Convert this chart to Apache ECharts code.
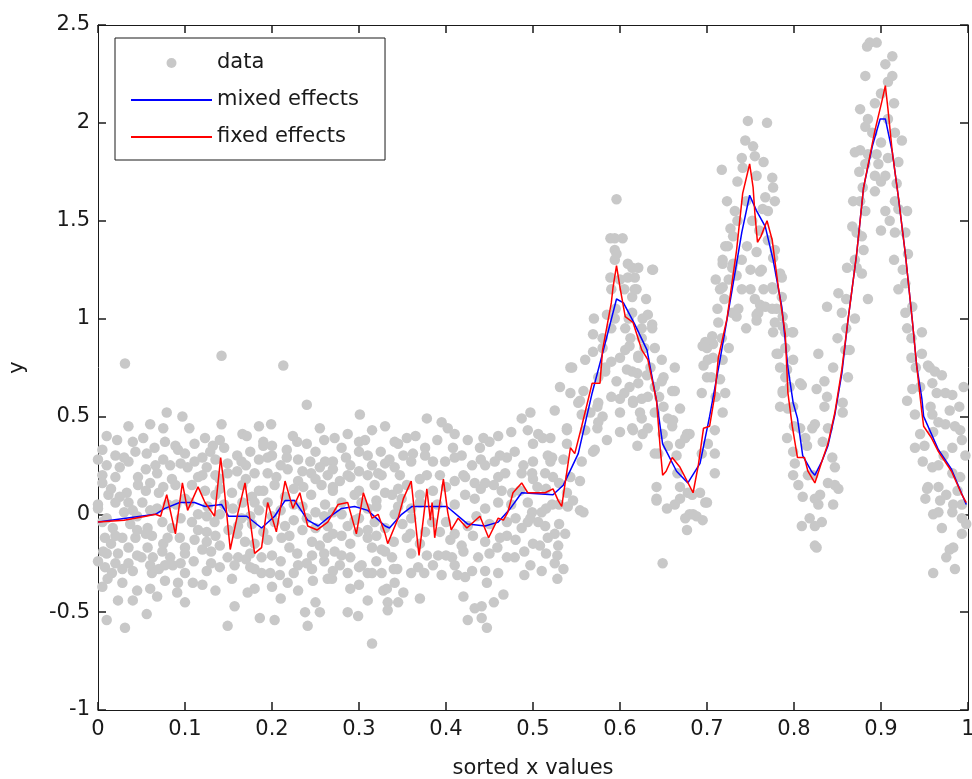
<!DOCTYPE html>
<html><head><meta charset="utf-8">
<script src="https://cdn.jsdelivr.net/npm/echarts@6/dist/echarts.min.js"></script>
<style>html,body{margin:0;padding:0;background:#fff}#c{width:972px;height:779px}</style>
</head><body><div id="c"></div>
<script>
// scatter data [x, y]
var pointsA = [[0.031,0.77],[0.142,0.81],[0.213,0.76],[0.079,0.52],[0.24,0.56],[0.097,0.5],[0.142,0.46],[0.199,0.46],[0.301,0.51],[0.075,0.44],
[0.01,0.4],[0.022,0.38],[0.052,0.39],[0.077,0.37],[0.089,0.35],[0.111,0.36],[0.123,0.39],[0.132,0.35],[0.166,0.41],[0.171,0.4],[0.224,0.4],[0.229,0.37],[0.272,0.39],[0.287,0.41],[0.315,0.43],[0.307,0.38],
[0.02,0.3],[0.043,0.32],[0.056,0.31],[0.092,0.33],[0.111,0.27],[0.129,0.32],[0.149,0.26],[0.217,0.33],[0.217,0.29],[0.244,0.27],[0.261,0.27],[0.27,0.27],[0.31,0.3],[0.322,0.21],
[0.005,0.2],[0.046,0.19],[0.066,0.25],[0.068,0.21],[0.083,0.25],[0.103,0.24],[0.12,0.2],[0.149,0.21],[0.18,0.21],[0.195,0.21],[0.218,0.23],[0.23,0.17],[0.264,0.2],[0.278,0.17],[0.326,0.2],
[0.005,0.16],[0.033,0.11],[0.046,0.15],[0.06,0.16],[0.089,0.15],[0.108,0.15],[0.123,0.12],[0.154,0.11],[0.166,0.15],[0.177,0.09],[0.203,0.15],[0.236,0.14],[0.257,0.15],[0.287,0.2],[0.318,0.15],
[0.02,0.06],[0.051,0.06],[0.068,0.03],[0.126,0.04],[0.166,0.06],[0.195,0.06],[0.261,0.05],[0.303,0.06],
[0.005,-0.04],[0.017,-0.07],[0.037,-0.05],[0.057,-0.07],[0.074,-0.04],[0.108,-0.04],[0.134,-0.04],[0.161,-0.06],[0.177,-0.05],[0.203,-0.04],[0.215,-0.06],[0.264,-0.06],[0.287,-0.06],[0.318,-0.04],
[0.008,-0.12],[0.028,-0.12],[0.043,-0.12],[0.062,-0.11],[0.094,-0.12],[0.1,-0.17],[0.111,-0.13],[0.169,-0.14],[0.195,-0.13],[0.211,-0.12],[0.246,-0.14],[0.264,-0.12],[0.28,-0.11],[0.299,-0.09],[0.315,-0.17],[0.326,-0.18],
[0.006,-0.19],[0.023,-0.2],[0.057,-0.17],[0.063,-0.22],[0.074,-0.19],[0.083,-0.22],[0.149,-0.22],[0.161,-0.22],[0.188,-0.22],[0.229,-0.2],[0.246,-0.21],[0.272,-0.19],[0.278,-0.26],[0.303,-0.26],[0.315,-0.3],
[0.008,-0.27],[0.016,-0.3],[0.028,-0.28],[0.062,-0.3],[0.077,-0.26],[0.086,-0.26],[0.157,-0.26],[0.198,-0.3],[0.209,-0.31],[0.246,-0.28],[0.264,-0.33],[0.287,-0.3],[0.326,-0.3],
[0.011,-0.33],[0.028,-0.35],[0.077,-0.34],[0.092,-0.35],[0.109,-0.35],[0.154,-0.33],[0.188,-0.3],[0.218,-0.35],[0.247,-0.34],[0.269,-0.33],[0.31,-0.3],[0.328,-0.39],
[0.045,-0.39],[0.091,-0.4],[0.172,-0.4],[0.18,-0.38],[0.068,-0.42],[0.023,-0.44],[0.157,-0.47],[0.056,-0.51],[0.238,-0.5],[0.255,-0.5],[0.287,-0.5],[0.299,-0.52],[0.01,-0.54],[0.031,-0.58],[0.149,-0.57],[0.186,-0.53],[0.203,-0.54],[0.241,-0.57],[0.315,-0.66],
[0.135,0.28],[0.16,0.3],[0.185,0.28],[0.19,0.35],[0.17,0.25],[0.14,0.18],[0.2,0.3],[0.235,0.22],[0.255,0.24],[0.29,0.25],[0.3,0.32],[0.33,0.26],[0.025,0.24],[0.035,0.27],[0.012,0.1],[0.04,0.02],[0.09,0.05],[0.14,0.0],[0.25,0.01],[0.28,0.0],[0.3,-0.02],[0.32,0.07],[0.225,-0.03],[0.185,0.02],[0.115,-0.08],[0.05,-0.22],[0.13,-0.25],[0.175,-0.27],[0.23,-0.26],[0.29,-0.22],[0.095,-0.25],[0.035,-0.25],[0.12,-0.18],[0.26,-0.24],[0.31,-0.12]];

var pointsE = [[0.005,0.33],[0.065,0.34],[0.1,0.31],[0.145,0.34],[0.175,0.32],[0.2,0.35],[0.25,0.32],[0.28,0.34],[0.325,0.32],
[0.01,0.25],[0.055,0.23],[0.095,0.26],[0.125,0.24],[0.16,0.22],[0.21,0.25],[0.245,0.21],[0.27,0.23],[0.3,0.22],[0.315,0.25],
[0.025,0.09],[0.07,0.11],[0.1,0.08],[0.135,0.1],[0.19,0.12],[0.215,0.09],[0.245,0.1],[0.27,0.12],[0.295,0.1],[0.33,0.11],
[0.0,0.03],[0.03,0.01],[0.06,0.02],[0.115,0.0],[0.155,0.03],[0.175,-0.01],[0.21,0.02],[0.235,0.04],[0.27,0.01],[0.31,0.03],
[0.045,-0.08],[0.085,-0.07],[0.125,-0.09],[0.15,-0.08],[0.19,-0.09],[0.235,-0.08],[0.25,-0.07],[0.31,-0.08],[0.33,-0.07],
[0.015,-0.15],[0.035,-0.17],[0.075,-0.15],[0.125,-0.14],[0.14,-0.16],[0.18,-0.15],[0.22,-0.17],[0.255,-0.16],[0.29,-0.15],
[0.0,-0.24],[0.02,-0.25],[0.06,-0.26],[0.11,-0.24],[0.14,-0.27],[0.17,-0.23],[0.21,-0.24],[0.24,-0.25],[0.3,-0.27],[0.32,-0.24],
[0.005,-0.37],[0.06,-0.38],[0.12,-0.36],[0.135,-0.39],[0.2,-0.37],[0.23,-0.39],[0.29,-0.38],[0.3,-0.36],
[0.035,0.45],[0.06,0.46],[0.105,0.44],[0.185,0.45],[0.255,0.44],[0.33,0.45],
[0.365,0.4],[0.41,0.41],[0.425,0.38],[0.46,0.4],[0.475,0.42],[0.52,0.39],
[0.335,0.28],[0.385,0.27],[0.47,0.29],[0.5,0.27],[0.535,0.28],
[0.355,0.15],[0.4,0.14],[0.41,0.17],[0.455,0.15],[0.505,0.14],[0.53,0.16],
[0.345,0.04],[0.36,0.03],[0.39,0.05],[0.445,0.03],[0.475,0.05],[0.515,0.03],[0.54,0.04],
[0.35,-0.05],[0.4,-0.04],[0.425,-0.06],[0.45,-0.05],[0.47,-0.04],[0.53,-0.05],
[0.34,-0.14],[0.37,-0.15],[0.405,-0.13],[0.445,-0.14],[0.48,-0.13],[0.5,-0.15],
[0.36,-0.3],[0.395,-0.31],[0.43,-0.29],[0.46,-0.3],[0.49,-0.31],[0.51,-0.29]];

var pointsF = [[0.04,0.37],[0.14,0.38],[0.19,0.37],[0.24,0.36],[0.26,0.38],[0.3,0.37],[0.345,0.36],[0.39,0.38],[0.45,0.37],[0.5,0.36],
[0.0,0.28],[0.03,0.29],[0.075,0.28],[0.12,0.29],[0.165,0.27],[0.195,0.29],[0.23,0.28],[0.285,0.29],[0.36,0.27],[0.41,0.29],[0.44,0.28],[0.52,0.27],
[0.02,0.19],[0.085,0.18],[0.115,0.19],[0.135,0.2],[0.17,0.18],[0.205,0.19],[0.25,0.18],[0.29,0.19],[0.31,0.2],[0.37,0.18],[0.42,0.2],[0.46,0.19],[0.5,0.18],
[0.015,0.13],[0.055,0.12],[0.075,0.14],[0.14,0.13],[0.185,0.12],[0.225,0.13],[0.27,0.14],[0.3,0.12],[0.345,0.13],[0.385,0.12],[0.44,0.13],[0.485,0.12],[0.515,0.13],
[0.0,0.05],[0.035,0.06],[0.08,0.05],[0.105,0.06],[0.145,0.05],[0.18,0.06],[0.225,0.05],[0.28,0.06],[0.32,0.04],[0.37,0.06],[0.41,0.05],[0.46,0.06],[0.53,0.05],
[0.01,-0.02],[0.045,-0.01],[0.095,-0.02],[0.125,-0.01],[0.165,-0.02],[0.2,-0.01],[0.24,-0.02],[0.26,-0.01],[0.295,-0.03],[0.36,-0.02],[0.435,-0.01],[0.48,-0.02],
[0.02,-0.11],[0.055,-0.1],[0.08,-0.12],[0.135,-0.11],[0.16,-0.1],[0.22,-0.11],[0.27,-0.1],[0.32,-0.11],[0.355,-0.12],[0.41,-0.1],[0.47,-0.11],[0.525,-0.1],
[0.01,-0.2],[0.045,-0.21],[0.1,-0.2],[0.13,-0.19],[0.175,-0.2],[0.2,-0.21],[0.26,-0.2],[0.28,-0.21],[0.33,-0.19],[0.36,-0.2],[0.4,-0.21],[0.45,-0.2],[0.49,-0.19],[0.515,-0.2],
[0.04,-0.29],[0.07,-0.28],[0.1,-0.3],[0.125,-0.29],[0.18,-0.28],[0.225,-0.3],[0.27,-0.29],[0.34,-0.28],[0.375,-0.3],[0.445,-0.29],[0.535,-0.28],
[0.04,-0.44],[0.1,-0.45],[0.21,-0.43],[0.25,-0.45],[0.31,-0.44],[0.37,-0.43],[0.455,-0.45],
[0.71,1.2],[0.725,1.2],[0.74,1.3],[0.75,1.25],[0.765,1.15],[0.78,1.05],[0.76,1.45],[0.735,1.5],[0.77,1.55],[0.755,1.1],[0.745,0.95],[0.79,0.7],[0.7,0.7],[0.71,0.6],
[0.87,1.3],[0.88,1.35],[0.9,1.45],[0.915,1.3],[0.92,1.15],[0.93,0.95],[0.885,1.1],[0.86,0.95],[0.875,1.75],[0.915,2.1],[0.9,1.7],[0.935,0.8],
[0.59,1.15],[0.595,1.05],[0.61,1.0],[0.625,0.95],[0.64,0.85],[0.58,0.85],[0.575,0.7],[0.59,0.78],[0.605,0.62],[0.62,0.72],[0.64,0.65],[0.65,0.7]];

var pointsB = [[0.378,0.49],[0.395,0.47],[0.402,0.44],[0.341,0.37],[0.355,0.39],[0.376,0.34],[0.443,0.39],[0.439,0.34],[0.408,0.34],[0.418,0.3],[0.351,0.3],[0.362,0.31],[0.376,0.3],[0.462,0.3],[0.399,0.27],[0.43,0.25],[0.445,0.25],[0.456,0.27],[0.479,0.32],[0.487,0.49],[0.497,0.52],[0.525,0.53],[0.531,0.65],[0.543,0.62],[0.494,0.43],[0.506,0.41],[0.511,0.39],[0.539,0.44],[0.517,0.3],[0.522,0.29],[0.539,0.36],
[0.341,0.24],[0.347,0.2],[0.378,0.2],[0.393,0.2],[0.422,0.19],[0.433,0.16],[0.445,0.16],[0.468,0.21],[0.476,0.11],[0.487,0.21],[0.499,0.21],[0.514,0.21],
[0.338,0.1],[0.349,0.08],[0.37,0.1],[0.422,0.1],[0.433,0.08],[0.464,0.12],[0.494,0.06],[0.499,0.01],[0.51,0.01],[0.522,0.05],[0.494,-0.04],[0.506,-0.04],[0.514,-0.06],[0.487,-0.07],[0.537,-0.1],[0.517,-0.12],[0.508,-0.16],[0.529,-0.16],
[0.341,0.0],[0.359,-0.1],[0.376,-0.09],[0.384,-0.04],[0.393,-0.09],[0.418,-0.16],[0.431,-0.11],[0.462,-0.12],[0.459,-0.17],
[0.338,-0.22],[0.344,-0.28],[0.368,-0.27],[0.378,-0.21],[0.391,-0.21],[0.385,-0.26],[0.407,-0.22],[0.41,-0.26],[0.42,-0.19],[0.437,-0.22],[0.47,-0.22],[0.479,-0.22],[0.497,-0.26],[0.525,-0.25],[0.528,-0.21],[0.413,-0.31],[0.422,-0.32],[0.528,-0.33],[0.332,-0.38],[0.341,-0.35],[0.351,-0.4],[0.447,-0.35],[0.333,-0.45],[0.345,-0.45],[0.333,-0.49],[0.42,-0.42],[0.466,-0.41],[0.433,-0.48],[0.441,-0.47],[0.425,-0.54],[0.441,-0.53],[0.447,-0.58],
[0.489,0.25],[0.523,0.19],[0.543,0.19],[0.546,0.07],[0.554,0.02],[0.497,-0.02],[0.543,0.75]];

var pointsC = [[0.552,0.57],[0.556,0.51],[0.574,0.44],[0.569,0.32],[0.556,0.27],[0.554,0.17],[0.558,0.01],[0.539,0.11],
[0.596,1.61],[0.594,1.41],[0.603,1.41],[0.594,1.35],[0.594,1.3],[0.614,1.26],[0.621,1.26],[0.637,1.25],[0.609,1.21],[0.617,1.21],[0.617,1.15],[0.614,1.11],[0.585,1.02],[0.614,1.03],[0.632,1.02],[0.594,1.0],[0.606,0.95],[0.637,0.97],[0.569,0.92],[0.625,0.9],[0.606,0.84],[0.569,0.83],[0.56,0.79],[0.621,0.8],[0.648,0.79],[0.545,0.75],[0.583,0.75],
[0.583,0.73],[0.614,0.73],[0.621,0.67],[0.648,0.68],[0.66,0.63],[0.575,0.57],[0.615,0.58],[0.625,0.59],[0.625,0.49],[0.632,0.44],[0.614,0.44],[0.655,0.49],[0.66,0.45],[0.571,0.33],[0.64,0.31],
[0.575,0.47],[0.632,0.6],[0.64,0.52],[0.661,0.48],[0.649,0.41],[0.669,0.36],[0.677,0.41],[0.644,0.31],[0.615,0.43],[0.626,0.41],[0.623,0.52],[0.615,0.57],
[0.642,0.07],[0.642,0.14],[0.669,0.14],[0.678,0.11],[0.7,0.06],[0.684,0.0],[0.694,0.31],[0.701,0.36],
[0.694,0.62],[0.696,0.76],[0.7,0.85],[0.707,0.87],[0.707,0.8],[0.717,0.9],[0.721,0.62],[0.718,0.52],[0.715,1.15],[0.718,1.28],[0.73,1.28],[0.724,1.37],[0.73,1.42],[0.734,1.01],[0.757,1.02],[0.761,1.07],[0.761,1.24],[0.776,1.15],[0.776,1.31],[0.784,1.23],[0.776,0.93],[0.787,0.96],[0.799,0.93],[0.78,0.82],[0.784,0.75],[0.792,0.74],[0.807,0.67],[0.787,0.62],[0.784,0.55],[0.799,0.55],[0.807,0.44],[0.792,0.39],
[0.747,2.01],[0.769,2.0],[0.744,1.91],[0.753,1.88],[0.755,1.83],[0.74,1.82],[0.741,1.77],[0.717,1.76],[0.757,1.73],[0.775,1.72],[0.776,1.67],[0.723,1.6],[0.767,1.62],[0.778,1.6],[0.732,1.55],[0.764,1.56],[0.727,1.46],[0.746,1.37],[0.757,1.34],[0.778,1.35],[0.721,1.37],[0.718,1.3],[0.729,1.26],[0.734,1.22],[0.763,1.25],[0.786,1.21],[0.718,1.16],[0.775,1.16],[0.786,1.11],[0.767,1.06],[0.759,1.03],[0.757,0.99],[0.736,1.05],[0.729,1.03],[0.713,0.98],[0.706,0.91],[0.698,0.88],[0.695,0.86],[0.778,0.98],[0.787,1.01],[0.79,0.93],[0.798,0.93],[0.782,0.82],[0.701,0.79],[0.718,0.79],[0.799,0.79],
[0.663,0.63],[0.669,0.54],[0.68,0.41],[0.675,0.39],[0.666,0.21],[0.669,0.08],[0.663,0.05],[0.683,0.1],[0.692,0.11],[0.68,0.0],[0.688,-0.01],[0.695,-0.03],[0.677,-0.08],[0.709,0.31],[0.709,0.21],[0.787,0.63],[0.793,0.54],[0.715,0.69],[0.709,0.43],[0.663,0.75],[0.675,-0.02],[0.698,0.06],[0.649,-0.25],[0.642,0.08],[0.654,0.03],
[0.558,0.63],[0.554,0.58],[0.574,0.55],[0.566,0.52],[0.56,0.43],[0.539,0.43],[0.585,0.38],[0.589,1.21],[0.609,1.28],[0.638,1.25],[0.589,1.41],[0.596,1.33],[0.619,1.15],[0.626,1.0],[0.637,0.95],[0.611,0.86],[0.621,0.81],[0.631,0.71],[0.608,0.74],[0.596,0.68],[0.611,0.65],[0.6,0.59],[0.6,0.52],
[0.58,0.9],[0.59,0.95],[0.6,0.8],[0.605,1.15],[0.612,0.9],[0.628,0.85],[0.635,0.75],[0.645,0.6],[0.65,0.55],[0.59,0.6],[0.58,0.5],[0.6,0.42],[0.62,0.35],[0.655,0.35],[0.665,0.3],[0.57,1.0],[0.6,1.2],[0.63,1.1],
[0.705,0.7],[0.712,1.05],[0.72,1.1],[0.725,0.85],[0.74,1.15],[0.75,1.15],[0.752,1.5],[0.77,1.4],[0.775,1.05],[0.79,0.85],[0.795,0.65],[0.8,0.45],[0.735,1.7],[0.765,1.8],[0.745,1.6]];

var pointsD = [[0.809,0.66],[0.826,0.64],[0.838,0.6],[0.821,0.44],[0.824,0.46],[0.813,0.39],[0.833,0.37],[0.839,0.44],[0.856,0.57],[0.856,0.52],[0.799,0.32],[0.801,0.26],[0.799,0.2],[0.816,0.2],[0.822,0.2],[0.844,0.29],[0.847,0.24],[0.839,0.16],[0.847,0.15],[0.851,0.13],[0.81,0.09],[0.824,0.08],[0.828,0.05],[0.832,-0.04],[0.824,-0.06],[0.809,-0.06],[0.824,-0.16],[0.826,-0.17],
[0.887,2.41],[0.895,2.41],[0.884,2.39],[0.913,2.34],[0.905,2.3],[0.882,2.24],[0.913,2.24],[0.908,2.21],[0.876,2.07],[0.893,2.1],[0.885,2.02],[0.882,1.98],[0.908,2.02],[0.916,1.95],[0.924,1.91],[0.876,1.86],[0.885,1.84],[0.895,1.84],[0.882,1.79],[0.897,1.79],[0.908,1.82],[0.893,1.73],[0.879,1.67],[0.893,1.65],[0.905,1.73],[0.918,1.69],[0.876,1.6],[0.882,1.55],[0.916,1.6],[0.92,1.56],[0.867,1.47],[0.872,1.44],[0.878,1.42],[0.91,1.5],[0.916,1.44],[0.928,1.44],[0.931,1.33],[0.861,1.26],[0.872,1.26],[0.878,1.23],[0.928,1.18],[0.851,1.13],[0.838,1.06],[0.855,1.03],[0.928,1.03],[0.936,1.06],[0.947,0.93],[0.859,0.84],[0.864,0.84],[0.828,0.82],[0.947,0.82],[0.954,0.76],
[0.93,0.58],[0.936,0.64],[0.939,0.51],[0.945,0.41],[0.939,0.34],[0.948,0.27],[0.953,0.13],[0.951,0.08],[0.956,0.75],[0.962,0.73],[0.97,0.71],[0.959,0.67],[0.964,0.62],[0.974,0.62],[0.982,0.61],[0.979,0.53],[0.959,0.51],[0.966,0.47],[0.974,0.46],[0.96,0.42],[0.991,0.43],[0.993,0.38],[0.982,0.34],[0.959,0.24],[0.966,0.25],[0.982,0.21],[0.991,0.19],[0.954,0.14],[0.966,0.14],[0.968,0.07],[0.983,0.05],[0.982,0.01],[0.993,0.05],[0.993,-0.02],[0.966,0.01],[0.97,-0.07],[0.993,-0.1],[0.983,-0.17],[0.979,-0.18],[0.96,-0.3],[0.985,-0.28],
[0.86,1.1],[0.87,1.0],[0.868,1.6],[0.89,1.95],[0.9,1.9],[0.9,2.15],[0.92,1.8],[0.925,1.25],[0.935,0.9],[0.94,0.75],[0.945,0.65],[0.87,1.85],[0.905,1.55],[0.93,1.55],[0.85,0.9],[0.862,0.7],[0.845,0.75],[0.835,0.68],
[0.805,0.15],[0.815,0.35],[0.83,0.1],[0.845,0.05],[0.835,0.55],[0.818,-0.02],
[0.95,0.35],[0.957,0.55],[0.972,0.3],[0.985,0.45],[0.997,0.3],[0.975,0.1],[0.988,0.12],[0.96,0.0],[0.998,-0.05],[0.975,-0.22],[0.99,0.55],[0.995,0.65]];

// mixed effects fit (blue)
var mixedX = [0,0.066,0.077,0.094,0.111,0.123,0.142,0.15,0.171,0.188,0.203,0.215,0.226,0.241,0.253,0.264,0.28,0.295,0.31,0.33,0.335,0.349,0.361,0.401,0.425,0.445,0.46,0.474,0.487,0.523,0.535,0.552,0.568,0.581,0.596,0.604,0.617,0.631,0.642,0.649,0.665,0.678,0.692,0.703,0.715,0.729,0.74,0.749,0.757,0.767,0.776,0.786,0.793,0.799,0.804,0.81,0.82,0.824,0.832,0.839,0.847,0.855,0.862,0.872,0.88,0.89,0.899,0.905,0.913,0.92,0.928,0.936,0.941,0.947,0.949,0.966,0.981,0.998];
var mixedY = [-0.04,0.0,0.03,0.06,0.06,0.04,0.05,-0.01,-0.01,-0.07,-0.01,0.07,0.07,-0.03,-0.06,-0.02,0.03,0.04,0.02,-0.06,-0.07,0.0,0.04,0.04,-0.05,-0.06,-0.04,0.03,0.11,0.1,0.15,0.31,0.62,0.84,1.1,1.08,0.97,0.84,0.58,0.36,0.22,0.16,0.26,0.5,0.79,1.15,1.44,1.63,1.55,1.47,1.3,1.06,0.75,0.57,0.49,0.3,0.22,0.2,0.27,0.35,0.51,0.72,0.99,1.33,1.67,1.88,2.02,2.02,1.85,1.62,1.33,0.99,0.76,0.59,0.5,0.33,0.23,0.05];

// fixed effects fit (red)
var fixedX = [0,0.03,0.055,0.066,0.072,0.079,0.089,0.097,0.103,0.115,0.123,0.134,0.141,0.144,0.152,0.161,0.169,0.18,0.188,0.195,0.205,0.215,0.224,0.232,0.241,0.252,0.264,0.276,0.287,0.297,0.305,0.315,0.322,0.33,0.333,0.345,0.351,0.36,0.368,0.369,0.378,0.382,0.384,0.387,0.397,0.402,0.406,0.414,0.424,0.439,0.449,0.46,0.466,0.471,0.477,0.487,0.494,0.514,0.523,0.529,0.533,0.537,0.543,0.548,0.556,0.568,0.577,0.58,0.59,0.592,0.596,0.6,0.606,0.615,0.625,0.632,0.642,0.646,0.649,0.653,0.66,0.669,0.684,0.69,0.696,0.703,0.709,0.713,0.723,0.734,0.741,0.749,0.753,0.755,0.758,0.762,0.769,0.775,0.782,0.79,0.793,0.798,0.804,0.812,0.816,0.824,0.832,0.839,0.847,0.855,0.862,0.872,0.88,0.893,0.901,0.905,0.908,0.913,0.92,0.928,0.936,0.941,0.947,0.949,0.958,0.966,0.981,0.993,0.998];
var fixedY = [-0.04,-0.03,-0.01,0.0,-0.01,0.1,-0.1,0.16,0.02,0.14,0.06,-0.01,0.29,0.18,-0.18,0.01,0.16,-0.2,-0.17,0.06,-0.09,0.17,0.03,0.11,-0.06,-0.08,-0.04,0.05,0.06,-0.1,0.11,-0.02,0.0,-0.1,-0.15,-0.02,0.08,0.17,-0.17,-0.21,0.13,-0.03,0.06,-0.12,0.18,0.01,-0.08,-0.02,-0.07,-0.01,-0.12,-0.02,-0.03,0.01,0.11,0.16,0.11,0.11,0.13,0.07,0.04,0.16,0.34,0.31,0.45,0.67,0.67,0.84,1.08,1.16,1.27,1.16,1.01,0.98,0.84,0.79,0.58,0.35,0.2,0.22,0.29,0.24,0.11,0.25,0.44,0.45,0.61,0.8,1.0,1.35,1.64,1.79,1.67,1.54,1.39,1.42,1.5,1.4,1.16,0.92,0.62,0.45,0.29,0.29,0.22,0.16,0.27,0.36,0.52,0.74,0.99,1.33,1.67,1.96,2.11,2.19,2.07,1.85,1.62,1.33,0.99,0.76,0.52,0.45,0.39,0.32,0.22,0.1,0.06];

var xTicks = {min: 0, max: 1, interval: 0.1};
var yTicks = {min: -1, max: 2.5, interval: 0.5};

function zip(a, b) { return a.map(function (v, i) { return [v, b[i]]; }); }
var scatterData = pointsA.concat(pointsE, pointsF, pointsB, pointsC, pointsD);

var FONT = 'DejaVu Sans';
var INK = '#1a1a1a';
function axisBase(ticks, pos, showLabel) {
  return {
    type: 'value', min: ticks.min, max: ticks.max, interval: ticks.interval, position: pos,
    axisLine: {show: true, onZero: false, lineStyle: {color: INK, width: 1}},
    axisTick: {show: true, inside: true, length: 8, lineStyle: {color: INK, width: 1.5}},
    axisLabel: {show: showLabel, fontFamily: FONT, fontSize: 21, color: INK},
    splitLine: {show: false}
  };
}
var xb = axisBase(xTicks, 'bottom', true);
xb.axisLabel.margin = 9;
xb.name = 'sorted x values'; xb.nameLocation = 'middle'; xb.nameGap = 48;
xb.nameTextStyle = {fontFamily: FONT, fontSize: 21, color: INK};
var xt = axisBase(xTicks, 'top', false);
var yl = axisBase(yTicks, 'left', true);
yl.axisLabel.margin = 8;
yl.name = 'y'; yl.nameLocation = 'middle'; yl.nameGap = 70; yl.nameRotate = 90;
yl.nameTextStyle = {fontFamily: FONT, fontSize: 21, color: INK};
var yr = axisBase(yTicks, 'right', false);

var chart = echarts.init(document.getElementById('c'), null, {renderer: 'canvas'});
chart.setOption({
  animation: false,
  backgroundColor: '#ffffff',
  grid: {left: 98, right: 4, top: 25, bottom: 69, containLabel: false, outerBoundsMode: 'none'},
  xAxis: [xb, xt],
  yAxis: [yl, yr],
  legend: {
    orient: 'vertical', left: 115, top: 38,
    padding: [13, 26, 11, 15],
    itemWidth: 81, itemHeight: 10, itemGap: 13,
    borderColor: INK, borderWidth: 1, backgroundColor: '#fff',
    textStyle: {fontFamily: FONT, fontSize: 21, color: INK, lineHeight: 24},
    data: [
      {name: 'data'},
      {name: 'mixed effects', itemStyle: {opacity: 0}},
      {name: 'fixed effects', itemStyle: {opacity: 0}}
    ]
  },
  series: [
    {name: 'data', type: 'scatter', data: scatterData, symbol: 'circle', symbolSize: 10.5,
     itemStyle: {color: '#c8c8c8', opacity: 1}, silent: true},
    {name: 'mixed effects', type: 'line', data: zip(mixedX, mixedY), showSymbol: false, symbol: 'none',
     lineStyle: {color: '#0000ff', width: 1.5}, itemStyle: {color: '#0000ff'}},
    {name: 'fixed effects', type: 'line', data: zip(fixedX, fixedY), showSymbol: false, symbol: 'none',
     lineStyle: {color: '#ff0000', width: 1.5}, itemStyle: {color: '#ff0000'}}
  ]
});
</script></body></html>
